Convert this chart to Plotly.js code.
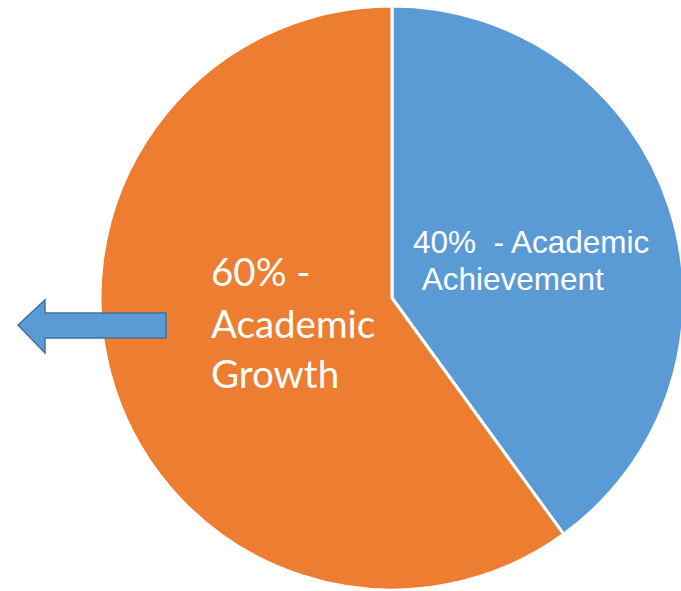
<!DOCTYPE html>
<html>
<head>
<meta charset="utf-8">
<script src="https://cdn.plot.ly/plotly-3.0.1.min.js"></script>
<style>
html,body{margin:0;padding:0;overflow:hidden;width:681px;height:591px;background:#fff;}
#chart{width:784px;height:591px;}
</style>
</head>
<body>
<div id="chart"></div>
<script>
var categories = ["Academic Achievement", "Academic Growth"];
var values = [40, 60];
var colors = ["#5B9BD5", "#ED7D31"];
var achievementLines = ["40%\u00a0\u00a0- Academic", "\u00a0Achievement"];
var growthLines = ["60% -", "Academic", "Growth"];

var L = 100, T = 6, W = 584, H = 584;
function px(x){ return (x - L) / W; }
function py(y){ return 1 - (y - T) / H; }

var annotations = [];
var achY = [242, 279];
achievementLines.forEach(function(t, i){
  annotations.push({xref:'paper', yref:'paper', x:px(411), y:py(achY[i]), xanchor:'left', yanchor:'middle',
    text:t, showarrow:false, font:{family:'Liberation Sans, Arial, sans-serif', size:31.5, color:'#ffffff'}});
});
var grY = [271, 323, 373];
growthLines.forEach(function(t, i){
  annotations.push({xref:'paper', yref:'paper', x:px(209), y:py(grY[i]), xanchor:'left', yanchor:'middle',
    text:t, showarrow:false, font:{family:'Lato, sans-serif', size:38.5, color:'#ffffff'}});
});

var arrowPts = [[18,325],[45,300],[45,313],[166,313],[166,338],[45,338],[45,353]];
var path = arrowPts.map(function(p, i){ return (i ? 'L' : 'M') + px(p[0]) + ',' + py(p[1]); }).join(' ') + ' Z';

var data = [{
  type:'pie', labels:categories, values:values, sort:false, direction:'clockwise', rotation:0,
  marker:{colors:colors, line:{color:'#ffffff', width:3}},
  textinfo:'none', hoverinfo:'label+percent'
}];
var layout = {
  width:784, height:591, margin:{l:L, r:100, t:T, b:1}, showlegend:false,
  paper_bgcolor:'#ffffff', plot_bgcolor:'#ffffff',
  annotations:annotations,
  shapes:[{type:'path', xref:'paper', yref:'paper', path:path, fillcolor:'#5B9BD5', line:{color:'#41719C', width:1.5}}]
};
Plotly.newPlot('chart', data, layout, {displayModeBar:false, staticPlot:true});
</script>
</body>
</html>
